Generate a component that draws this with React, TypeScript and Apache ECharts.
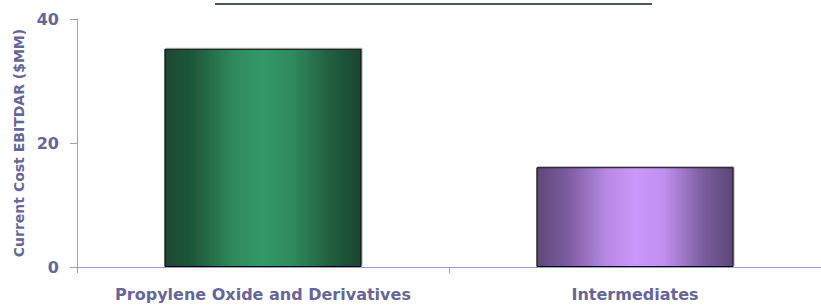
import React, { useEffect, useRef } from "react";
import * as echarts from "echarts";

const categories = ["Propylene Oxide and Derivatives", "Intermediates"];
const values = [35.2, 16.1];
const yTicks = { min: 0, max: 40, interval: 20 };
const yAxisTitle = "Current Cost EBITDAR ($MM)";

const labelColor = "#66669a";
const axisColor = "#9d9dcc";
const font = "DejaVu Sans";

const greenGrad = new echarts.graphic.LinearGradient(0, 0, 1, 0, [
  { offset: 0, color: "#1a4830" },
  { offset: 0.15, color: "#1f5a3b" },
  { offset: 0.35, color: "#2e8a5c" },
  { offset: 0.5, color: "#349868" },
  { offset: 0.65, color: "#2e8a5c" },
  { offset: 0.85, color: "#215d3e" },
  { offset: 1, color: "#1a4630" },
]);
const purpleGrad = new echarts.graphic.LinearGradient(0, 0, 1, 0, [
  { offset: 0, color: "#5e4878" },
  { offset: 0.15, color: "#7a5a9e" },
  { offset: 0.35, color: "#b588e2" },
  { offset: 0.5, color: "#ca98fa" },
  { offset: 0.65, color: "#bf90ee" },
  { offset: 0.85, color: "#7a5c9c" },
  { offset: 1, color: "#5c4876" },
]);
const barFills = [greenGrad, purpleGrad];

export default function App() {
  const ref = useRef<HTMLDivElement>(null);
  useEffect(() => {
    if (!ref.current) return;
    const chart = echarts.init(ref.current, null, { renderer: "svg" });
    chart.setOption({
      animation: false,
      backgroundColor: "#ffffff",
      grid: { left: 77, right: -5, top: 19, bottom: 40, containLabel: false },
      graphic: [
        {
          type: "line",
          shape: { x1: 215, y1: 4, x2: 652, y2: 4 },
          style: { stroke: "#4b5563", lineWidth: 2 },
        },
      ],
      xAxis: {
        type: "category",
        data: categories,
        axisLine: { show: true, lineStyle: { color: axisColor, width: 1 } },
        axisTick: { show: true, length: 6, alignWithLabel: false, lineStyle: { color: axisColor } },
        axisLabel: {
          color: labelColor,
          fontFamily: font,
          fontWeight: "bold",
          fontSize: 16,
          margin: 19,
          interval: 0,
        },
      },
      yAxis: {
        type: "value",
        min: yTicks.min,
        max: yTicks.max,
        interval: yTicks.interval,
        name: yAxisTitle,
        nameLocation: "middle",
        nameRotate: 90,
        nameGap: 51,
        nameTextStyle: {
          color: labelColor,
          fontFamily: font,
          fontWeight: "bold",
          fontSize: 14,
        },
        splitLine: { show: false },
        axisLine: { show: true, lineStyle: { color: axisColor, width: 1 } },
        axisTick: { show: true, length: 7, lineStyle: { color: axisColor } },
        axisLabel: {
          color: labelColor,
          fontFamily: font,
          fontWeight: "bold",
          fontSize: 16,
          margin: 18,
        },
      },
      series: [
        {
          type: "bar",
          barCategoryGap: "47%",
          data: values.map((v, i) => ({
            value: v,
            itemStyle: {
              color: barFills[i],
              borderColor: "#000000",
              borderWidth: 1,
              shadowColor: "rgba(120,120,120,0.55)",
              shadowBlur: 0,
              shadowOffsetX: 1,
              shadowOffsetY: -1,
            },
          })),
        },
      ],
    });
    return () => chart.dispose();
  }, []);
  return (
    <div
      ref={ref}
      style={{ position: "fixed", left: 0, top: 0, width: 821, height: 307 }}
    />
  );
}
